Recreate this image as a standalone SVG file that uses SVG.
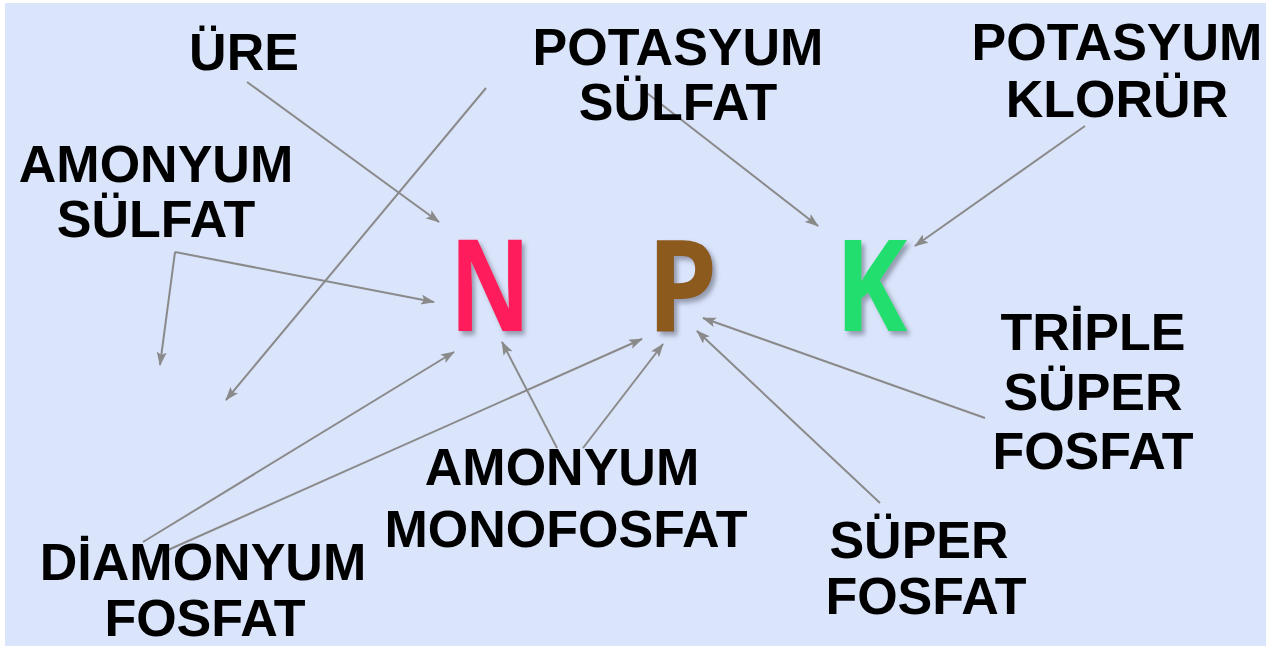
<svg xmlns="http://www.w3.org/2000/svg" width="1266" height="646" viewBox="0 0 1266 646">
  <defs>
    <style>
      .lbl { font-family: "Liberation Sans", Arial, sans-serif; font-weight: bold; font-size: 52px; fill: #000; text-anchor: middle; }
      .big { font-family: "Open Sans", "Liberation Sans", sans-serif; font-weight: bold; font-size: 128px; text-anchor: middle; }
      .conn { stroke: #8a8a8a; stroke-width: 2; fill: none; marker-end: url(#arrow); }
    </style>
    <marker id="arrow" viewBox="0 0 14 10" refX="13" refY="5" markerWidth="14" markerHeight="10" markerUnits="userSpaceOnUse" orient="auto">
      <path d="M0,0 L14,5 L0,10 L3,5 Z" fill="#8a8a8a"/>
    </marker>
    <filter id="shadow" x="-20%" y="-20%" width="150%" height="150%">
      <feDropShadow dx="4" dy="4" stdDeviation="2.5" flood-color="#5a6070" flood-opacity="0.55"/>
    </filter>
  </defs>

  <!-- page background -->
  <rect x="0" y="0" width="1266" height="646" fill="#ffffff"/>
  <rect x="5" y="3" width="1261" height="643" fill="#dae4fb"/>

  <!-- connectors -->
  <g id="connectors">
    <line class="conn" x1="247" y1="82" x2="439" y2="222"/>
    <line class="conn" x1="486" y1="88" x2="226" y2="400"/>
    <line class="conn" x1="175" y1="252" x2="434" y2="302"/>
    <line class="conn" x1="175" y1="252" x2="160" y2="365"/>
    <line class="conn" x1="643" y1="90" x2="818" y2="226"/>
    <line class="conn" x1="1085" y1="126" x2="915" y2="246"/>
    <line class="conn" x1="985" y1="418" x2="703" y2="318"/>
    <line class="conn" x1="880" y1="503" x2="697" y2="331"/>
    <line class="conn" x1="557" y1="448" x2="502" y2="342"/>
    <line class="conn" x1="583" y1="448" x2="663" y2="344"/>
    <line class="conn" x1="143" y1="542" x2="454" y2="352"/>
    <line class="conn" x1="168" y1="550" x2="642" y2="339"/>
  </g>

  <!-- nutrient letters -->
  <g id="node-N" transform="translate(490,331) scale(0.78,1)"><text class="big" x="0" y="0" fill="#ff1f5b" filter="url(#shadow)">N</text></g>
  <g id="node-P" transform="translate(682,331) scale(0.88,1)"><text class="big" x="0" y="0" fill="#8b5a1f" filter="url(#shadow)">P</text></g>
  <g id="node-K" transform="translate(871,331) scale(0.85,1)"><text class="big" x="0" y="0" fill="#20de6e" filter="url(#shadow)">K</text></g>

  <!-- fertilizer labels -->
  <g id="node-ure"><text class="lbl" x="244" y="70">ÜRE</text></g>
  <g id="node-potasyum-sulfat">
    <text class="lbl" x="678" y="65">POTASYUM</text>
    <text class="lbl" x="678" y="120">SÜLFAT</text>
  </g>
  <g id="node-potasyum-klorur">
    <text class="lbl" x="1117" y="60">POTASYUM</text>
    <text class="lbl" x="1117" y="117">KLORÜR</text>
  </g>
  <g id="node-amonyum-sulfat">
    <text class="lbl" x="156" y="182">AMONYUM</text>
    <text class="lbl" x="156" y="237">SÜLFAT</text>
  </g>
  <g id="node-triple-super-fosfat">
    <text class="lbl" x="1093" y="350">TRİPLE</text>
    <text class="lbl" x="1093" y="410">SÜPER</text>
    <text class="lbl" x="1093" y="469">FOSFAT</text>
  </g>
  <g id="node-amonyum-monofosfat">
    <text class="lbl" x="562" y="485">AMONYUM</text>
    <text class="lbl" x="566" y="547">MONOFOSFAT</text>
  </g>
  <g id="node-super-fosfat">
    <text class="lbl" x="919" y="558">SÜPER</text>
    <text class="lbl" x="926" y="614">FOSFAT</text>
  </g>
  <g id="node-diamonyum-fosfat">
    <text class="lbl" x="203" y="580">DİAMONYUM</text>
    <text class="lbl" x="205" y="636">FOSFAT</text>
  </g>
</svg>
